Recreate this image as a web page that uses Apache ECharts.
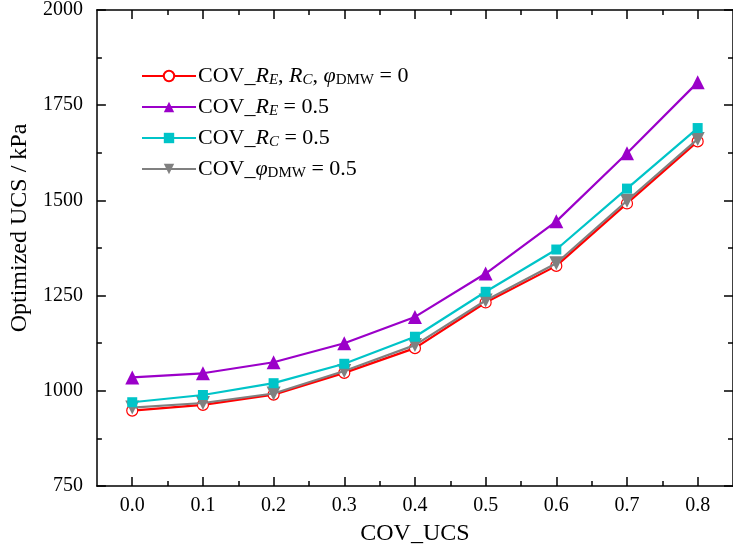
<!DOCTYPE html>
<html>
<head>
<meta charset="utf-8">
<script src="https://cdn.jsdelivr.net/npm/echarts@6/dist/echarts.min.js"></script>
<style>
  html, body { margin: 0; padding: 0; background: #fff; }
  #chart { width: 733px; height: 556px; }
</style>
</head>
<body>
<div id="chart"></div>
<script>
  // values
  const covUcs = [0.0, 0.1, 0.2, 0.3, 0.4, 0.5, 0.6, 0.7, 0.8];
  const xMinorTicks = [0.05, 0.15, 0.25, 0.35, 0.45, 0.55, 0.65, 0.75];
  const baseline = [948, 963, 990, 1047, 1112, 1232, 1328, 1492, 1655];
  const covRE = [1035, 1046, 1075, 1125, 1194, 1308, 1445, 1624, 1810];
  const covRC = [970, 989, 1020, 1071, 1142, 1260, 1371, 1531, 1690];
  const covPhi = [956, 968, 993, 1052, 1120, 1237, 1335, 1499, 1661];

  const names = ['base', 're', 'rc', 'phi'];
  const legendText = {
    base: '{n|COV_}{i|R}{si|E}{n|, }{i|R}{si|C}{n|, }{i|φ}{s|DMW}{n| = 0}',
    re: '{n|COV_}{i|R}{si|E}{n| = 0.5}',
    rc: '{n|COV_}{i|R}{si|C}{n| = 0.5}',
    phi: '{n|COV_}{i|φ}{s|DMW}{n| = 0.5}'
  };

  const font = '"Liberation Serif", "Times New Roman", serif';
  const pairs = arr => covUcs.map((x, i) => [x, arr[i]]);

  const black = { color: '#000', width: 1.5 };
  const majorTick = { show: true, inside: true, length: 9, lineStyle: black };
  const axisLine = { show: true, onZero: false, lineStyle: black };
  const xRange = { type: 'value', min: -0.05, max: 0.85 };

  const chart = echarts.init(document.getElementById('chart'));
  chart.setOption({
    animation: false,
    backgroundColor: '#fff',
    textStyle: { fontFamily: font },
    grid: { left: 93, top: 8, width: 645, bottom: 70, containLabel: false },
    legend: {
      left: 136,
      top: 60,
      orient: 'vertical',
      itemWidth: 54,
      itemHeight: 13,
      itemGap: 8,
      data: names,
      formatter: n => legendText[n],
      textStyle: {
        fontFamily: font,
        fontSize: 22,
        color: '#000',
        padding: [0, 0, 0, -3],
        rich: {
          n: { fontFamily: font, fontSize: 22, lineHeight: 24, color: '#000' },
          i: { fontFamily: font, fontSize: 22, lineHeight: 24, fontStyle: 'italic', color: '#000' },
          si: { fontFamily: font, fontSize: 15, lineHeight: 11, fontStyle: 'italic', verticalAlign: 'bottom', color: '#000' },
          s: { fontFamily: font, fontSize: 15, lineHeight: 11, verticalAlign: 'bottom', color: '#000' }
        }
      }
    },
    xAxis: [Object.assign({}, xRange, {
      position: 'bottom',
      name: 'COV_UCS',
      nameLocation: 'middle',
      nameGap: 36,
      nameTextStyle: { fontFamily: font, fontSize: 24, color: '#000' },
      axisLine: axisLine,
      axisTick: Object.assign({ customValues: covUcs }, majorTick),
      splitLine: { show: false },
      axisLabel: {
        customValues: covUcs,
        fontFamily: font, fontSize: 20, color: '#000', margin: 10,
        formatter: v => v.toFixed(1)
      }
    }), Object.assign({}, xRange, {
      position: 'top',
      axisLine: axisLine,
      axisTick: Object.assign({ customValues: covUcs }, majorTick),
      splitLine: { show: false },
      axisLabel: { show: false }
    }), Object.assign({}, xRange, {
      position: 'bottom',
      axisLine: { show: false, onZero: false },
      axisTick: { show: true, inside: true, length: 5, lineStyle: black, customValues: xMinorTicks },
      splitLine: { show: false },
      axisLabel: { show: false }
    }), Object.assign({}, xRange, {
      position: 'top',
      axisLine: { show: false, onZero: false },
      axisTick: { show: true, inside: true, length: 5, lineStyle: black, customValues: xMinorTicks },
      splitLine: { show: false },
      axisLabel: { show: false }
    })],
    yAxis: [{
      type: 'value',
      position: 'left',
      min: 750,
      max: 2000,
      interval: 250,
      name: 'Optimized UCS / kPa',
      nameLocation: 'middle',
      nameGap: 54,
      nameTextStyle: { fontFamily: font, fontSize: 24, color: '#000', padding: [0, 0, 0, 40] },
      axisLine: axisLine,
      axisTick: majorTick,
      minorTick: { show: true, splitNumber: 2, length: 5, lineStyle: black },
      splitLine: { show: false },
      axisLabel: { fontFamily: font, fontSize: 20, color: '#000', margin: 14, formatter: v => String(v) }
    }, {
      type: 'value',
      position: 'right',
      min: 750,
      max: 2000,
      interval: 250,
      axisLine: axisLine,
      axisTick: majorTick,
      minorTick: { show: true, splitNumber: 2, length: 5, lineStyle: black },
      splitLine: { show: false },
      axisLabel: { show: false }
    }],
    series: [{
      name: 'base',
      type: 'line',
      data: pairs(baseline),
      symbol: 'circle',
      symbolSize: 11,
      lineStyle: { color: '#ff0000', width: 2.2 },
      itemStyle: { color: '#fff', borderColor: '#ff0000', borderWidth: 1.2 },
      z: 2
    }, {
      name: 're',
      type: 'line',
      data: pairs(covRE),
      symbol: 'triangle',
      symbolSize: 14,
      lineStyle: { color: '#9b00c9', width: 2.2 },
      itemStyle: { color: '#9b00c9' },
      z: 3
    }, {
      name: 'rc',
      type: 'line',
      data: pairs(covRC),
      symbol: 'rect',
      symbolSize: 10,
      lineStyle: { color: '#00c4c8', width: 2.2 },
      itemStyle: { color: '#00c4c8' },
      z: 4
    }, {
      name: 'phi',
      type: 'line',
      data: pairs(covPhi),
      symbol: 'triangle',
      symbolRotate: 180,
      symbolSize: 14,
      lineStyle: { color: '#808080', width: 2.2 },
      itemStyle: { color: '#808080' },
      z: 3
    }]
  });
</script>
</body>
</html>
